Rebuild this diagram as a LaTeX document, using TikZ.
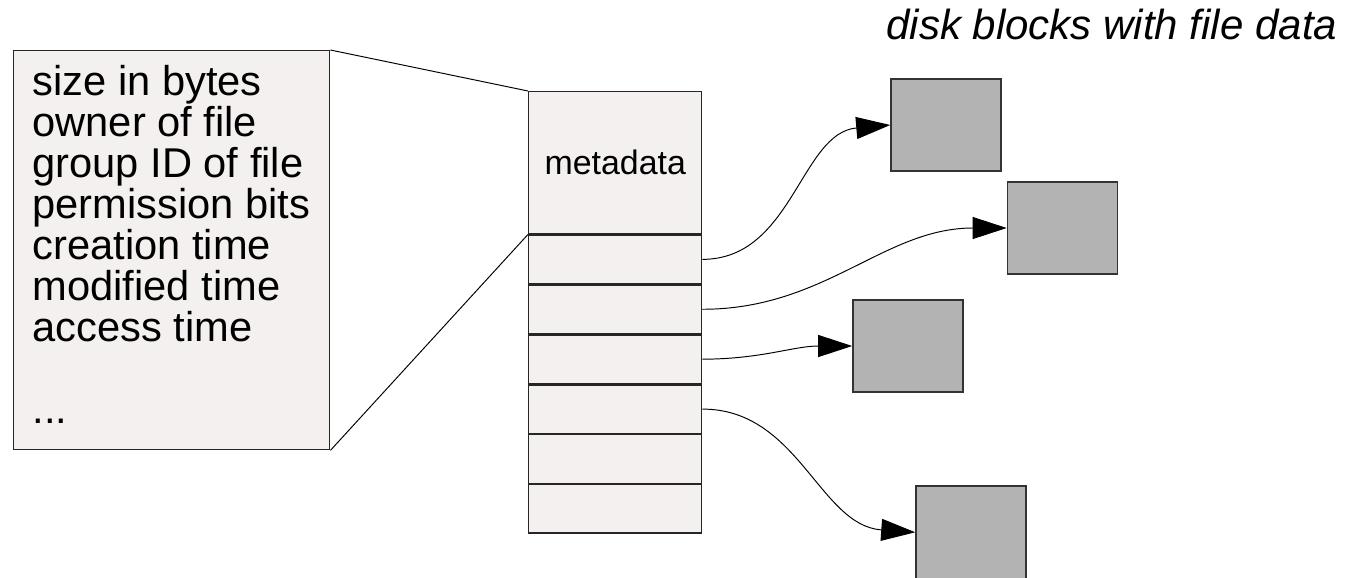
\documentclass[tikz,border=0pt]{standalone}
\usepackage{fontspec}
\setmainfont{Liberation Sans}
\usepackage{tikz}
\usetikzlibrary{arrows.meta, positioning}

\definecolor{inodefill}{RGB}{243,240,239}
\definecolor{blockfill}{RGB}{179,179,179}
\definecolor{blockedge}{RGB}{51,51,51}

\begin{document}
\begin{tikzpicture}[
  attrs/.style={
    rectangle, anchor=north west,
    minimum width=6.33cm, minimum height=7.98cm,
    inner xsep=0.34cm, align=left,
    line width=0.8pt, draw=black!85, fill=inodefill,
    font=\fontsize{23.7}{23.3}\selectfont
  },
  metabox/.style={
    rectangle, anchor=north west,
    minimum width=3.46cm, minimum height=2.84cm,
    line width=0.8pt, draw=black!85, fill=inodefill,
    font=\fontsize{19.3}{23}\selectfont
  },
  slot/.style={
    rectangle,
    minimum width=3.46cm, minimum height=0.97cm,
    line width=0.8pt, draw=black!85, fill=inodefill
  },
  diskblk/.style={
    rectangle,
    minimum width=2.2cm, minimum height=1.85cm,
    line width=0.9pt, draw=blockedge, fill=blockfill
  },
  heading/.style={inner sep=0pt, font=\itshape\fontsize{23.9}{28}\selectfont},
  ptr/.style={-{Triangle[length=0.68cm, width=0.44cm]}, line width=0.55pt, black},
  zoomline/.style={line width=0.55pt, black}
]
\useasboundingbox (0,0) rectangle (26.96,-11.54);

%% Inode attributes
\node[attrs] (info) at (0.25,-1.0) {%
  size in bytes\\
  owner of file\\
  group ID of file\\
  permission bits\\
  creation time\\
  modified time\\
  access time\\[0.82cm]
  ...\rule[-0.22cm]{0pt}{0pt}
};

%% Inode: metadata on top, block pointers below
\node[metabox] (meta) at (10.56,-1.82) {metadata};
\node[slot, below=0pt of meta] (p1) {};
\node[slot, below=0pt of p1] (p2) {};
\node[slot, below=0pt of p2] (p3) {};
\node[slot, below=0pt of p3] (p4) {};
\node[slot, below=0pt of p4] (p5) {};
\node[slot, below=0pt of p5] (p6) {};

%% Disk blocks
\node[heading, anchor=base east] (cap) at (26.75,-0.79) {disk blocks with file data};
\node[diskblk] (b1) at (18.92,-2.5) {};
\node[diskblk] (b2) at (21.25,-4.56) {};
\node[diskblk] (b3) at (18.16,-6.92) {};
\node[diskblk] (b4) at (19.42,-10.645) {};

%% Zoom lines from the attribute list to the metadata part
\draw[zoomline] (info.north east) -- (meta.north west);
\draw[zoomline] (info.south east) -- (meta.south west);

%% Block pointers
\draw[ptr] (p1.east) to[out=0, in=185] (b1.west);
\draw[ptr] (p2.east) to[out=0, in=180] (b2.west);
\draw[ptr] (p3.east) to[out=0, in=180] (b3.west);
\draw[ptr] (p4.east) to[out=0, in=176] (b4.west);

\end{tikzpicture}
\end{document}
